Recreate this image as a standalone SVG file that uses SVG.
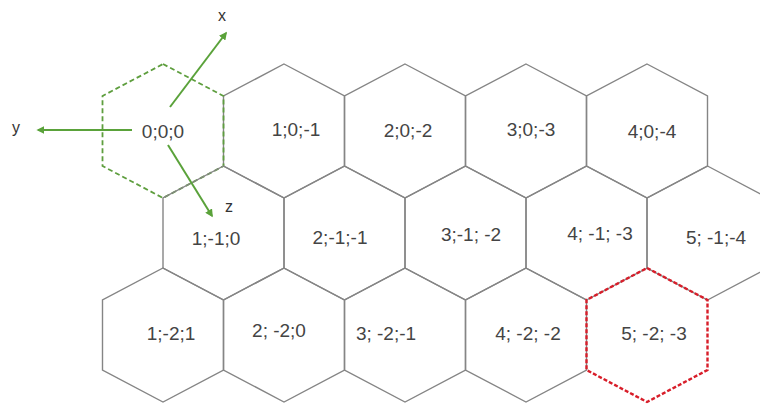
<svg xmlns="http://www.w3.org/2000/svg" xmlns:xlink="http://www.w3.org/1999/xlink" width="760" height="412" viewBox="0 0 760 412">
<style>
.cell{fill:none;stroke:#858585;stroke-width:1.4}
.origin{fill:none;stroke:#5e9e3e;stroke-width:1.8;stroke-dasharray:5 3}
.target{fill:none;stroke:#d81e2a;stroke-width:2.4;stroke-dasharray:4 2}
.lbl{font-family:"Liberation Sans",Arial,sans-serif;font-size:19px;fill:#444;text-anchor:middle;dominant-baseline:central}
.axis{stroke:#5aa23a;stroke-width:2;fill:none;marker-end:url(#arr)}
.axl{font-family:"Liberation Sans",Arial,sans-serif;font-size:16px;fill:#333;text-anchor:middle;dominant-baseline:central}
</style>
<defs>
<polygon id="hex" points="0,-67 60.5,-35 60.5,35 0,67 -60.5,35 -60.5,-35"/>
<marker id="arr" viewBox="0 0 10 10" refX="8" refY="5" markerWidth="4" markerHeight="4" orient="auto" markerUnits="strokeWidth">
<path d="M0,0 L10,5 L0,10 z" fill="#5aa23a"/>
</marker>
</defs>
<rect width="760" height="412" fill="#fff"/>
<g id="n-1_0_-1"><use href="#hex" x="284" y="131" class="cell"/><text class="lbl" x="296" y="129">1;0;-1</text></g>
<g id="n-2_0_-2"><use href="#hex" x="405" y="131" class="cell"/><text class="lbl" x="408" y="130">2;0;-2</text></g>
<g id="n-3_0_-3"><use href="#hex" x="526" y="131" class="cell"/><text class="lbl" x="531" y="129">3;0;-3</text></g>
<g id="n-4_0_-4"><use href="#hex" x="647" y="131" class="cell"/><text class="lbl" x="652" y="131">4;0;-4</text></g>
<g id="n-0_0_0"><use href="#hex" x="163" y="131" class="origin"/><text class="lbl" x="163" y="131">0;0;0</text></g>
<g id="n-1_-1_0"><use href="#hex" x="223.5" y="233" class="cell"/><text class="lbl" x="216" y="238">1;-1;0</text></g>
<g id="n-2_-1_-1"><use href="#hex" x="344.5" y="233" class="cell"/><text class="lbl" x="340" y="237">2;-1;-1</text></g>
<g id="n-3_-1_-2"><use href="#hex" x="465.5" y="233" class="cell"/><text class="lbl" x="471" y="234">3;-1; -2</text></g>
<g id="n-4_-1_-3"><use href="#hex" x="586.5" y="233" class="cell"/><text class="lbl" x="600" y="233">4; -1; -3</text></g>
<g id="n-5_-1_-4"><use href="#hex" x="707.5" y="233" class="cell"/><text class="lbl" x="716" y="237">5; -1;-4</text></g>
<g id="n-1_-2_1"><use href="#hex" x="163" y="335" class="cell"/><text class="lbl" x="171" y="333">1;-2;1</text></g>
<g id="n-2_-2_0"><use href="#hex" x="284" y="335" class="cell"/><text class="lbl" x="279" y="330">2; -2;0</text></g>
<g id="n-3_-2_-1"><use href="#hex" x="405" y="335" class="cell"/><text class="lbl" x="386" y="333">3; -2;-1</text></g>
<g id="n-4_-2_-2"><use href="#hex" x="526" y="335" class="cell"/><text class="lbl" x="528" y="333">4; -2; -2</text></g>
<g id="n-5_-2_-3"><use href="#hex" x="647" y="335" class="target"/><text class="lbl" x="654" y="333">5; -2; -3</text></g>
<g id="connectors">
<line class="axis" x1="132" y1="130" x2="38" y2="130"/>
<line class="axis" x1="170" y1="107" x2="226" y2="33"/>
<line class="axis" x1="168" y1="145" x2="212" y2="216"/>
</g>
<g id="axis-labels">
<text class="axl" x="16" y="127">y</text>
<text class="axl" x="222" y="15">x</text>
<text class="axl" x="229" y="206">z</text>
</g>
</svg>
